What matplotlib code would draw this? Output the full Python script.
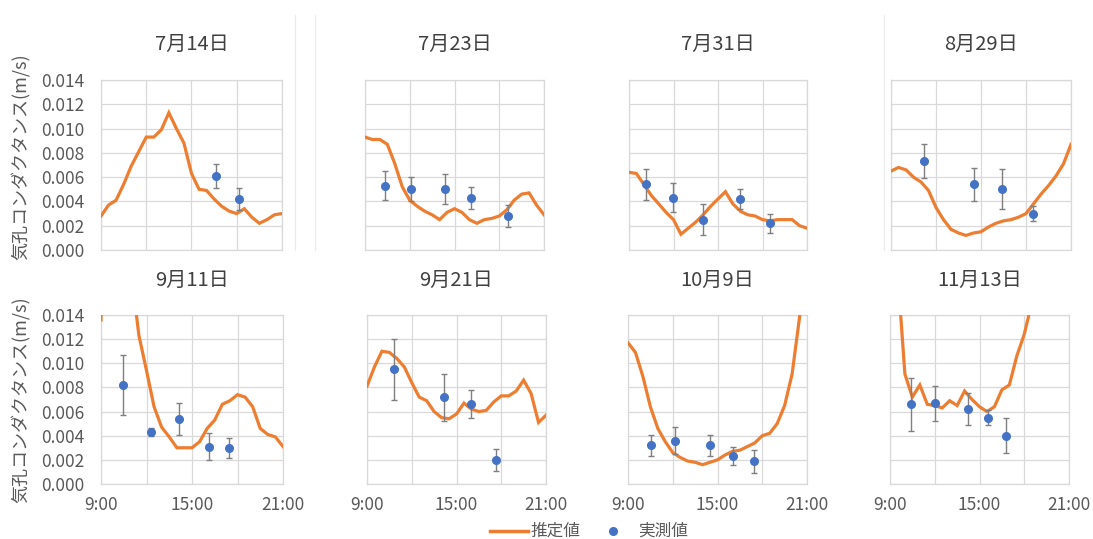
import matplotlib
matplotlib.use("Agg")
import matplotlib.pyplot as plt
from matplotlib.lines import Line2D

plt.rcParams['font.family'] = ['Noto Sans CJK JP', 'DejaVu Sans']

# 30 minute steps of the estimated (推定値) series
times = [9.0, 9.5, 10.0, 10.5, 11.0, 11.5, 12.0, 12.5, 13.0, 13.5, 14.0, 14.5,
         15.0, 15.5, 16.0, 16.5, 17.0, 17.5, 18.0, 18.5, 19.0, 19.5, 20.0, 20.5, 21.0]

titles = ["7月14日", "7月23日", "7月31日", "8月29日",
          "9月11日", "9月21日", "10月9日", "11月13日"]

# estimated values (m/s)
est_0714 = [0.0028, 0.0037, 0.0041, 0.0054, 0.0069, 0.0081, 0.0093, 0.0093, 0.0099, 0.0113,
            0.0100, 0.0088, 0.0063, 0.0050, 0.0049, 0.0042, 0.0036, 0.0032, 0.0030, 0.0034,
            0.0027, 0.0022, 0.0025, 0.0029, 0.0030]
est_0723 = [0.0093, 0.0091, 0.0091, 0.0087, 0.0071, 0.0052, 0.0041, 0.0036, 0.0032, 0.0029,
            0.0025, 0.0031, 0.0034, 0.0031, 0.0025, 0.0022, 0.0025, 0.0026, 0.0028, 0.0033,
            0.0041, 0.0046, 0.0047, 0.0037, 0.0029]
est_0731 = [0.0064, 0.0063, 0.0054, 0.0045, 0.0038, 0.0031, 0.0025, 0.0013, 0.0018, 0.0023,
            0.0029, 0.0036, 0.0042, 0.0048, 0.0038, 0.0032, 0.0029, 0.0028, 0.0025, 0.0024,
            0.0025, 0.0025, 0.0025, 0.0020, 0.0018]
est_0829 = [0.0065, 0.0068, 0.0066, 0.0060, 0.0056, 0.0049, 0.0035, 0.0025, 0.0017, 0.0014,
            0.0012, 0.0014, 0.0015, 0.0019, 0.0022, 0.0024, 0.0025, 0.0027, 0.0030, 0.0038,
            0.0046, 0.0053, 0.0061, 0.0071, 0.0087]
est_0911 = [0.0136, 0.0400, 0.0350, 0.0250, 0.0175, 0.0123, 0.0094, 0.0064, 0.0047, 0.0039,
            0.0030, 0.0030, 0.0030, 0.0035, 0.0046, 0.0053, 0.0066, 0.0069, 0.0074, 0.0072,
            0.0064, 0.0046, 0.0041, 0.0039, 0.0031]
est_0921 = [0.0081, 0.0097, 0.0110, 0.0109, 0.0104, 0.0097, 0.0084, 0.0072, 0.0069, 0.0060,
            0.0055, 0.0054, 0.0058, 0.0067, 0.0062, 0.0060, 0.0061, 0.0068, 0.0073, 0.0073,
            0.0077, 0.0086, 0.0075, 0.0051, 0.0057]
est_1009 = [0.0117, 0.0109, 0.0089, 0.0064, 0.0046, 0.0035, 0.0026, 0.0022, 0.0019, 0.0018,
            0.0016, 0.0018, 0.0020, 0.0024, 0.0027, 0.0028, 0.0031, 0.0034, 0.0040, 0.0042,
            0.0050, 0.0065, 0.0091, 0.0138, 0.0220]
est_1113 = [0.0250, 0.0177, 0.0091, 0.0072, 0.0082, 0.0066, 0.0065, 0.0063, 0.0069, 0.0065,
            0.0077, 0.0070, 0.0064, 0.0060, 0.0064, 0.0078, 0.0082, 0.0106, 0.0124, 0.0150,
            0.0180, 0.0210, 0.0240, 0.0270, 0.0300]

# measured values (実測値): time (h), value, error
obs_t_0714 = [16.6, 18.18]
obs_0714 = [0.0061, 0.0042]
err_0714 = [0.0010, 0.0009]
obs_t_0723 = [10.36, 12.08, 14.36, 16.08, 18.58]
obs_0723 = [0.0053, 0.0050, 0.0050, 0.0043, 0.0028]
err_0723 = [0.0012, 0.0010, 0.00125, 0.0009, 0.0009]
obs_t_0731 = [10.12, 11.98, 14.02, 16.49, 18.48]
obs_0731 = [0.0054, 0.0043, 0.0025, 0.0042, 0.0022]
err_0731 = [0.00125, 0.0012, 0.00125, 0.00085, 0.0008]
obs_t_0829 = [11.22, 14.5, 16.43, 18.49]
obs_0829 = [0.0073, 0.0054, 0.0050, 0.0030]
err_0829 = [0.0014, 0.00135, 0.00165, 0.00065]
obs_t_0911 = [10.45, 12.27, 14.11, 16.1, 17.42]
obs_0911 = [0.0082, 0.0043, 0.0054, 0.0031, 0.0030]
err_0911 = [0.00245, 0.00035, 0.0013, 0.0011, 0.00085]
obs_t_0921 = [10.79, 14.14, 16.0, 17.67]
obs_0921 = [0.0095, 0.0072, 0.0066, 0.0020]
err_0921 = [0.00255, 0.00195, 0.00115, 0.0009]
obs_t_1009 = [10.51, 12.14, 14.52, 16.02, 17.46]
obs_1009 = [0.0032, 0.0036, 0.0032, 0.0023, 0.0019]
err_1009 = [0.00085, 0.00115, 0.00085, 0.00075, 0.00095]
obs_t_1113 = [10.41, 12.01, 14.25, 15.58, 16.75]
obs_1113 = [0.0066, 0.0067, 0.0062, 0.0055, 0.0040]
err_1113 = [0.0022, 0.00145, 0.0013, 0.0006, 0.00145]

est_all = [est_0714, est_0723, est_0731, est_0829, est_0911, est_0921, est_1009, est_1113]
obs_t_all = [obs_t_0714, obs_t_0723, obs_t_0731, obs_t_0829,
             obs_t_0911, obs_t_0921, obs_t_1009, obs_t_1113]
obs_all = [obs_0714, obs_0723, obs_0731, obs_0829, obs_0911, obs_0921, obs_1009, obs_1113]
err_all = [err_0714, err_0723, err_0731, err_0829, err_0911, err_0921, err_1009, err_1113]

y_ticks = [0.000, 0.002, 0.004, 0.006, 0.008, 0.010, 0.012, 0.014]
x_ticks = [9, 12, 15, 18, 21]
x_ticklabels = ["9:00", "", "15:00", "", "21:00"]

orange = "#ED7D31"
blue = "#4472C4"
grid_c = "#D9D9D9"
text_c = "#595959"

W, H = 1093, 539
fig = plt.figure(figsize=(W / 100, H / 100), dpi=100)

# pixel positions of the plot areas (left, right) per row, and (top, bottom)
lefts_top = [(101, 282), (365, 544), (629, 807), (891, 1071)]
lefts_bot = [(101, 283), (367, 546), (628, 807), (890, 1069)]
rows_y = [(80, 250), (315, 484)]

for i in range(8):
    row = i // 4
    col = i % 4
    x0, x1 = (lefts_top if row == 0 else lefts_bot)[col]
    yt, yb = rows_y[row]
    ax = fig.add_axes([x0 / W, 1 - yb / H, (x1 - x0) / W, (yb - yt) / H])

    ax.plot(times, est_all[i], color=orange, lw=2.3, solid_joinstyle="miter", zorder=3)
    ax.errorbar(obs_t_all[i], obs_all[i], yerr=err_all[i], fmt="o", color=blue,
                ms=5.5, ecolor="#7F7F7F", elinewidth=1.0, capsize=2.5, capthick=1.0,
                zorder=4)

    ax.set_xlim(9, 21)
    ax.set_ylim(0, 0.014)
    ax.set_xticks(x_ticks)
    ax.set_yticks(y_ticks)
    ax.grid(True, color=grid_c, lw=0.9)
    ax.set_axisbelow(True)
    for s in ax.spines.values():
        s.set_color(grid_c)
        s.set_linewidth(0.9)
    ax.tick_params(length=0, labelsize=12.5, colors=text_c, pad=9)

    if col == 0:
        ax.set_yticklabels([f"{v:.3f}" for v in y_ticks])
        ax.tick_params(axis="y", pad=12)
    else:
        ax.set_yticklabels([])
    if row == 1:
        ax.set_xticklabels(x_ticklabels)
    else:
        ax.set_xticklabels([])

    ax.text(0.5, 1.207, titles[i], transform=ax.transAxes, ha="center", va="center",
            fontsize=14.5, color="#404040")

# y axis labels
for yc in [157, 400]:
    fig.text(21 / W, 1 - yc / H, "気孔コンダクタンス(m/s)", rotation=90, ha="center",
             va="center", fontsize=13, color=text_c)

# faint chart frame lines
for xs in [295, 315, 884]:
    fig.add_artist(Line2D([xs / W, xs / W], [1 - 15 / H, 1 - 250 / H],
                          color="#EBEBEB", lw=0.8))

# legend drawn by hand to match spacing
ly = 1 - 531 / H
fig.add_artist(Line2D([490 / W, 528 / W], [ly, ly], color=orange, lw=2.5))
fig.text(531 / W, ly, "推定値", ha="left", va="center", fontsize=12, color=text_c)
fig.add_artist(Line2D([613 / W], [ly], color=blue, marker="o", ls="none", ms=5.5))
fig.text(638 / W, ly, "実測値", ha="left", va="center", fontsize=12, color=text_c)

fig.savefig("out.png", dpi=100)
